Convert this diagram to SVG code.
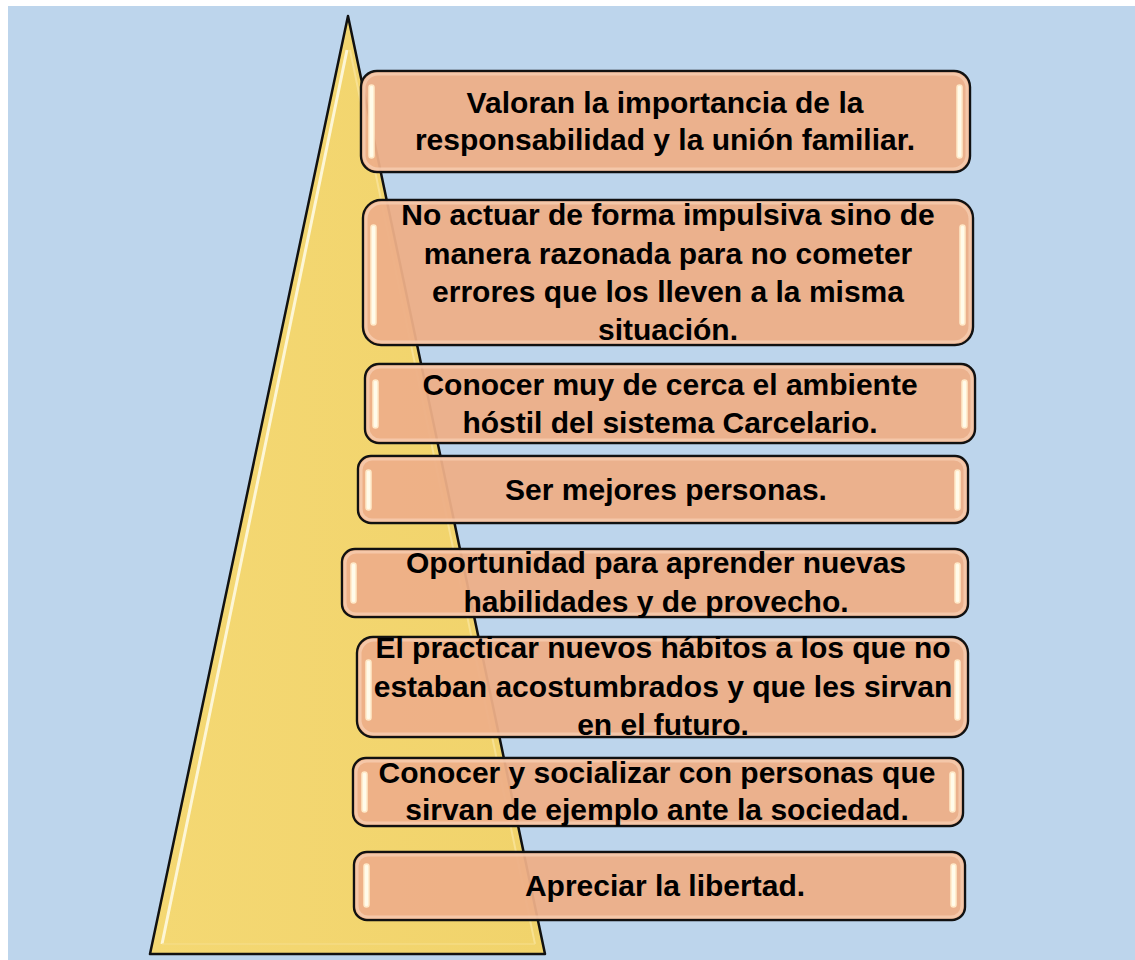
<svg xmlns="http://www.w3.org/2000/svg" width="1135" height="960" viewBox="0 0 1135 960">
<defs>
<style>
.box{fill:#EDAF88;fill-opacity:0.95;stroke:#111;stroke-width:2.4}
.inner{fill:none;stroke:#F6CDB0;stroke-width:3;opacity:0.8}
.hl{fill:#FFFBEA;stroke:#FFE9C8;stroke-width:1.5}
.t{font-family:"Liberation Sans",Arial,sans-serif;font-weight:bold;font-size:30px;fill:#000;text-anchor:middle}
</style>
<linearGradient id="tri" x1="0" y1="0" x2="1" y2="0">
<stop offset="0" stop-color="#F4D873"/>
<stop offset="1" stop-color="#F1D36B"/>
</linearGradient>
</defs>
<rect x="0" y="0" width="1135" height="960" fill="#FFFFFF"/>
<rect x="8" y="6" width="1127" height="954" fill="#BDD5EC"/>
<g id="triangle">
<polygon points="348,16 150,954 545,954" fill="url(#tri)" stroke="#111" stroke-width="2.5" stroke-linejoin="round"/>
<line x1="347" y1="50" x2="162" y2="944" stroke="#FFFCE8" stroke-width="3" opacity="0.85"/>
<line x1="350" y1="50" x2="535" y2="944" stroke="#FBE7A2" stroke-width="2" opacity="0.7"/>
<line x1="162" y1="944" x2="535" y2="944" stroke="#F6DE8A" stroke-width="2" opacity="0.6"/>
</g>
<g id="n1">
<rect class="box" x="361" y="71" width="609" height="101" rx="16"/>
<rect class="inner" x="364" y="74" width="603" height="95" rx="14"/>
<rect class="hl" x="369" y="85" width="5" height="73" rx="2.5"/>
<rect class="hl" x="957" y="85" width="5" height="73" rx="2.5"/>
<text class="t" x="665" y="113">Valoran la importancia de la</text>
<text class="t" x="665" y="150">responsabilidad y la unión familiar.</text>
</g>
<g id="n2">
<rect class="box" x="363" y="200" width="610" height="145" rx="18"/>
<rect class="inner" x="366" y="203" width="604" height="139" rx="16"/>
<rect class="hl" x="371" y="225" width="5" height="100" rx="2.5"/>
<rect class="hl" x="960" y="225" width="5" height="100" rx="2.5"/>
<text class="t" x="668" y="225">No actuar de forma impulsiva sino de</text>
<text class="t" x="668" y="264">manera razonada para no cometer</text>
<text class="t" x="668" y="302">errores que los lleven a la misma</text>
<text class="t" x="668" y="340">situación.</text>
</g>
<g id="n3">
<rect class="box" x="365" y="364" width="610" height="79" rx="14"/>
<rect class="inner" x="368" y="367" width="604" height="73" rx="12"/>
<rect class="hl" x="373" y="380" width="5" height="48" rx="2.5"/>
<rect class="hl" x="962" y="380" width="5" height="48" rx="2.5"/>
<text class="t" x="670" y="395">Conocer muy de cerca el ambiente</text>
<text class="t" x="670" y="433">hóstil del sistema Carcelario.</text>
</g>
<g id="n4">
<rect class="box" x="358" y="456" width="610" height="67" rx="13"/>
<rect class="inner" x="361" y="459" width="604" height="61" rx="11"/>
<rect class="hl" x="366" y="470" width="5" height="40" rx="2.5"/>
<rect class="hl" x="955" y="470" width="5" height="40" rx="2.5"/>
<text class="t" x="666" y="500">Ser mejores personas.</text>
</g>
<g id="n5">
<rect class="box" x="342" y="549" width="626" height="68" rx="13"/>
<rect class="inner" x="345" y="552" width="620" height="62" rx="11"/>
<rect class="hl" x="351" y="563" width="5" height="40" rx="2.5"/>
<rect class="hl" x="955" y="563" width="5" height="40" rx="2.5"/>
<text class="t" x="656" y="573">Oportunidad para aprender nuevas</text>
<text class="t" x="656" y="612">habilidades y de provecho.</text>
</g>
<g id="n6">
<rect class="box" x="357" y="637" width="611" height="100" rx="16"/>
<rect class="inner" x="360" y="640" width="605" height="94" rx="14"/>
<rect class="hl" x="366" y="660" width="5" height="60" rx="2.5"/>
<rect class="hl" x="955" y="660" width="5" height="60" rx="2.5"/>
<text class="t" x="663" y="658">El practicar nuevos hábitos a los que no</text>
<text class="t" x="663" y="697">estaban acostumbrados y que les sirvan</text>
<text class="t" x="663" y="735">en el futuro.</text>
</g>
<g id="n7">
<rect class="box" x="353" y="758" width="610" height="68" rx="13"/>
<rect class="inner" x="356" y="761" width="604" height="62" rx="11"/>
<rect class="hl" x="362" y="772" width="5" height="40" rx="2.5"/>
<rect class="hl" x="950" y="772" width="5" height="40" rx="2.5"/>
<text class="t" x="657" y="783">Conocer y socializar con personas que</text>
<text class="t" x="657" y="820">sirvan de ejemplo ante la sociedad.</text>
</g>
<g id="n8">
<rect class="box" x="354" y="852" width="611" height="68" rx="13"/>
<rect class="inner" x="357" y="855" width="605" height="62" rx="11"/>
<rect class="hl" x="364" y="864" width="5" height="43" rx="2.5"/>
<rect class="hl" x="951" y="864" width="5" height="43" rx="2.5"/>
<text class="t" x="665" y="896">Apreciar la libertad.</text>
</g>
<g id="connectors"></g>
</svg>
